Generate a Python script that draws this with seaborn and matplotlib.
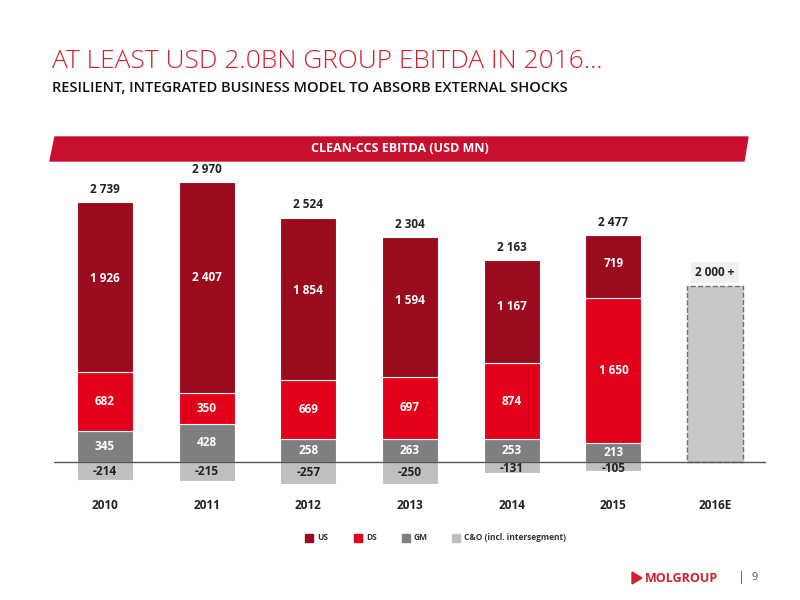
import matplotlib
matplotlib.use("Agg")
import matplotlib.pyplot as plt
from matplotlib.patches import Polygon, Rectangle
import seaborn as sns

years = ["2010", "2011", "2012", "2013", "2014", "2015", "2016E"]
us = [1926, 2407, 1854, 1594, 1167, 719]
ds = [682, 350, 669, 697, 874, 1650]
gm = [345, 428, 258, 263, 253, 213]
co = [-214, -215, -257, -250, -131, -105]
totals = [2739, 2970, 2524, 2304, 2163, 2477]
target_2016 = 2000

C_US, C_DS, C_GM, C_CO = "#9B0B1E", "#E2001A", "#7F7F7F", "#BFBFBF"

def fmt(v):
    return f"{v:,}".replace(",", " ")

sns.set_theme(style="white")
plt.rcParams["font.family"] = ["Open Sans", "DejaVu Sans"]

fig = plt.figure(figsize=(8, 6), dpi=100)
# zero line at ~462 px from top, ~0.0877 px per unit
ax = fig.add_axes([54 / 800, 112 / 600, 712 / 800, 316 / 600])

x = list(range(len(us)))
w = 0.55
tops = [g + d + u for g, d, u in zip(gm, ds, us)]
ax.bar(x, gm, width=w, color=C_GM, edgecolor="white", linewidth=0.8)
ax.bar(x, ds, width=w, bottom=gm, color=C_DS, edgecolor="white", linewidth=0.8)
ax.bar(x, us, width=w, bottom=[g + d for g, d in zip(gm, ds)], color=C_US, edgecolor="white", linewidth=0.8)
ax.bar(x, co, width=w, color=C_CO, edgecolor="white", linewidth=0.8)

# 2016E estimate bar
ax.bar(6, target_2016, width=w, color="#C8C8C8", edgecolor="#707070", linestyle="--", linewidth=1)
ax.text(6, target_2016 + 80, fmt(target_2016) + " +", ha="center", va="bottom", fontsize=8.5, fontweight="bold",
        bbox=dict(boxstyle="square,pad=0.35", fc="#F0F0F0", ec="none"))

for i in x:
    ax.text(i, gm[i] / 2, fmt(gm[i]), ha="center", va="center", color="white", fontsize=8.5, fontweight="bold")
    ax.text(i, gm[i] + ds[i] / 2, fmt(ds[i]), ha="center", va="center", color="white", fontsize=8.5, fontweight="bold")
    ax.text(i, gm[i] + ds[i] + us[i] * 0.55, fmt(us[i]), ha="center", va="center", color="white", fontsize=8.5, fontweight="bold")
    ax.text(i, min(co[i] / 2, -80), fmt(co[i]), ha="center", va="center", color="#222222", fontsize=8.5, fontweight="bold")
    ax.text(i, tops[i] + 70, fmt(totals[i]), ha="center", va="bottom", color="#222222", fontsize=8.5, fontweight="bold")

for i, yr in enumerate(years):
    ax.text(i, -500, yr, ha="center", va="center", fontsize=8.5, fontweight="bold", color="#222222")

ax.axhline(0, color="#555555", linewidth=1)
ax.set_xlim(-0.5, 6.5)
ax.set_ylim(-300, 3300)
ax.set_xticks([])
ax.set_yticks([])
sns.despine(ax=ax, left=True, bottom=True)

# legend
for lx, col, lab in [(305, C_US, "US"), (354, C_DS, "DS"), (402, C_GM, "GM"), (452, C_CO, "C&O (incl. intersegment)")]:
    fig.patches.append(Rectangle((lx / 800, (600 - 542) / 600), 8 / 800, 8 / 600,
                                 transform=fig.transFigure, color=col))
    fig.text((lx + 12) / 800, (600 - 538) / 600, lab, fontsize=6, fontweight="bold", va="center", color="#333333")

# titles
fig.text(52 / 800, 1 - 62 / 600, "AT LEAST USD 2.0BN GROUP EBITDA IN 2016…", color="#D2202F",
         fontsize=19, va="center", fontweight="light")
fig.text(52 / 800, 1 - 88 / 600, "RESILIENT, INTEGRATED BUSINESS MODEL TO ABSORB EXTERNAL SHOCKS",
         color="#111111", fontsize=10.5, va="center", fontweight="semibold")

band = Polygon([(50 / 800, 1 - 161 / 600), (744 / 800, 1 - 161 / 600), (748 / 800, 1 - 137 / 600), (55 / 800, 1 - 137 / 600)],
               closed=True, transform=fig.transFigure, color="#C8102E")
fig.patches.append(band)
fig.text(400 / 800, 1 - 149 / 600, "CLEAN-CCS EBITDA (USD MN)", color="white", fontsize=9,
         fontweight="bold", ha="center", va="center")

# footer
tri = Polygon([(632 / 800, 1 - 572 / 600), (632 / 800, 1 - 584 / 600), (642 / 800, 1 - 578 / 600)],
              closed=True, transform=fig.transFigure, color="#D2202F")
fig.patches.append(tri)
fig.text(645 / 800, 1 - 578 / 600, "MOLGROUP", color="#D2202F", fontsize=9, fontweight="bold", va="center")
fig.text(738 / 800, 1 - 578 / 600, "|", color="#D2202F", fontsize=9, va="center")
fig.text(752 / 800, 1 - 578 / 600, "9", color="#555555", fontsize=8, va="center")

fig.savefig("out.png", dpi=100)
